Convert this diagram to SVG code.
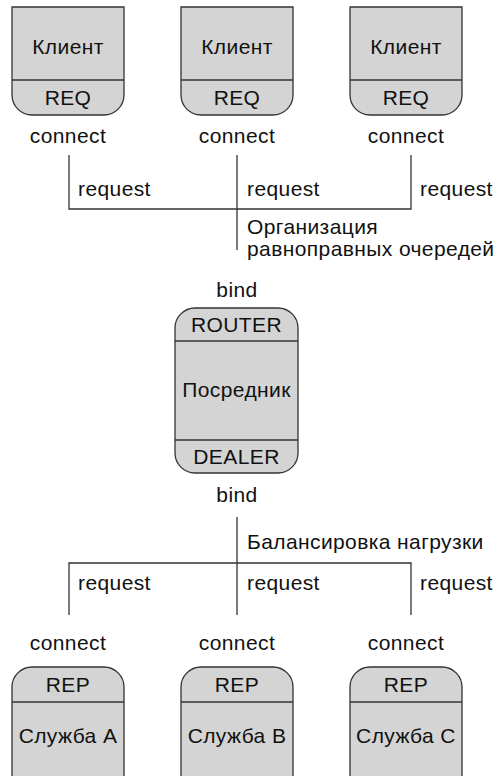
<svg xmlns="http://www.w3.org/2000/svg" width="498" height="776" viewBox="0 0 498 776">
<style>
text{font-family:"Liberation Sans",Arial,sans-serif;font-size:21px;letter-spacing:0.4px;fill:#111}
.c{text-anchor:middle}
.box{fill:#d4d4d4;stroke:#333;stroke-width:1.3}
.ln{stroke:#333;stroke-width:1.3;fill:none}
</style>
<rect width="498" height="776" fill="#fff"/>
<g id="client1">
<path class="box" d="M12,7 H124 V95 A20,20 0 0 1 104,115 H32 A20,20 0 0 1 12,95 Z"/>
<line class="ln" x1="12" y1="80" x2="124" y2="80"/>
<text class="c" x="68" y="54">Клиент</text>
<text class="c" x="68" y="105">REQ</text>
<text class="c" x="68" y="143">connect</text>
</g>
<g id="client2">
<path class="box" d="M181,7 H293 V95 A20,20 0 0 1 273,115 H201 A20,20 0 0 1 181,95 Z"/>
<line class="ln" x1="181" y1="80" x2="293" y2="80"/>
<text class="c" x="237" y="54">Клиент</text>
<text class="c" x="237" y="105">REQ</text>
<text class="c" x="237" y="143">connect</text>
</g>
<g id="client3">
<path class="box" d="M350,7 H462 V95 A20,20 0 0 1 442,115 H370 A20,20 0 0 1 350,95 Z"/>
<line class="ln" x1="350" y1="80" x2="462" y2="80"/>
<text class="c" x="406" y="54">Клиент</text>
<text class="c" x="406" y="105">REQ</text>
<text class="c" x="406" y="143">connect</text>
</g>
<g id="broker">
<text class="c" x="237" y="297">bind</text>
<rect class="box" x="175" y="308" width="123" height="165" rx="20" ry="20"/>
<line class="ln" x1="175" y1="341" x2="298" y2="341"/>
<line class="ln" x1="175" y1="440" x2="298" y2="440"/>
<text class="c" x="236.5" y="332">ROUTER</text>
<text class="c" x="236.5" y="397">Посредник</text>
<text class="c" x="236.5" y="464">DEALER</text>
<text class="c" x="237" y="502">bind</text>
</g>
<g id="serviceA">
<text class="c" x="68" y="650">connect</text>
<path class="box" d="M12,777 V687 A20,20 0 0 1 32,667 H104 A20,20 0 0 1 124,687 V777"/>
<line class="ln" x1="12" y1="702" x2="124" y2="702"/>
<text class="c" x="68" y="692">REP</text>
<text class="c" x="68" y="743">Служба A</text>
</g>
<g id="serviceB">
<text class="c" x="237" y="650">connect</text>
<path class="box" d="M181,777 V687 A20,20 0 0 1 201,667 H273 A20,20 0 0 1 293,687 V777"/>
<line class="ln" x1="181" y1="702" x2="293" y2="702"/>
<text class="c" x="237" y="692">REP</text>
<text class="c" x="237" y="743">Служба B</text>
</g>
<g id="serviceC">
<text class="c" x="406" y="650">connect</text>
<path class="box" d="M350,777 V687 A20,20 0 0 1 370,667 H442 A20,20 0 0 1 462,687 V777"/>
<line class="ln" x1="350" y1="702" x2="462" y2="702"/>
<text class="c" x="406" y="692">REP</text>
<text class="c" x="406" y="743">Служба C</text>
</g>
<g id="connectors">
<path class="ln" d="M69,155 V209 H411 V155 M237,155 V250"/>
<text x="78" y="196">request</text>
<text x="247" y="196">request</text>
<text x="420" y="196">request</text>
<text x="247" y="234">Организация</text>
<text x="247" y="256">равноправных очередей</text>
<path class="ln" d="M237,517 V615 M69,615 V563 H411 V615"/>
<text x="247" y="549">Балансировка нагрузки</text>
<text x="78" y="590">request</text>
<text x="247" y="590">request</text>
<text x="420" y="590">request</text>
</g>
</svg>
